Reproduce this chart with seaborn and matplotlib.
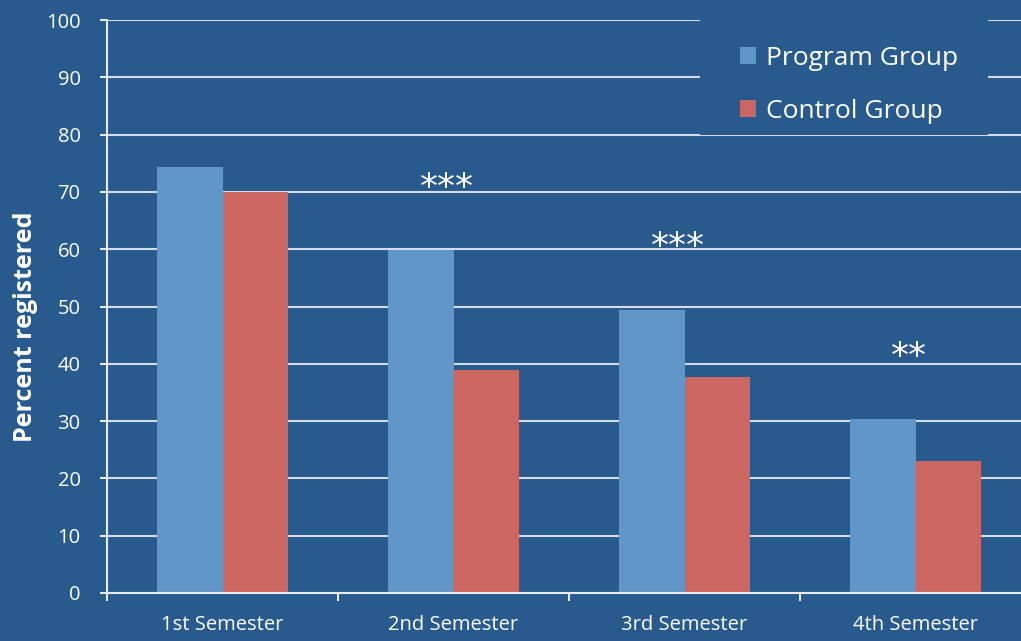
import matplotlib
matplotlib.use("Agg")
import matplotlib.pyplot as plt
import seaborn as sns
import pandas as pd
from matplotlib.patches import Patch, Rectangle

semesters = ["1st Semester", "2nd Semester", "3rd Semester", "4th Semester"]
program_group = [74.4, 59.8, 49.4, 30.3]
control_group = [69.9, 39.0, 37.7, 23.1]
group_names = ["Program Group", "Control Group"]
star_labels = ["", "***", "***", "**"]
star_heights = [0, 71.9, 61.6, 42.4]
y_ticks = [0, 10, 20, 30, 40, 50, 60, 70, 80, 90, 100]

BG = "#285A8E"
BLUE = "#6196C9"
RED = "#CC6660"
GRID = "#D6DCE4"

df = pd.DataFrame({
    "Semester": semesters * 2,
    "Value": program_group + control_group,
    "Group": [group_names[0]] * 4 + [group_names[1]] * 4,
})

sns.set_theme(style="white")
plt.rcParams["font.family"] = ["Open Sans", "DejaVu Sans"]

fig = plt.figure(figsize=(10.21, 6.41), dpi=100, facecolor=BG)
ax = fig.add_axes([107 / 1021, 1 - 593 / 641, 1 - 107 / 1021, (593 - 20) / 641])
ax.set_facecolor(BG)

sns.barplot(data=df, x="Semester", y="Value", hue="Group", order=semesters,
            hue_order=group_names, palette=[BLUE, RED], width=0.571, gap=0,
            saturation=1, ax=ax, legend=False, linewidth=0)

ax.set_ylim(0, 100)
ax.set_xlim(-0.5, (1021 - 107) / 231 - 0.5)
ax.set_yticks(y_ticks)
ax.yaxis.grid(True, color=GRID, linewidth=1.5)
ax.set_axisbelow(True)

for sp in ["top", "right"]:
    ax.spines[sp].set_visible(False)
for sp in ["left", "bottom"]:
    ax.spines[sp].set_color("#E8ECF2")
    ax.spines[sp].set_linewidth(1.5)

ax.tick_params(axis="y", colors="white", length=5, width=1.3, pad=14,
               labelsize=14.5, left=True, direction="out")
ax.tick_params(axis="x", which="major", length=0, pad=16, labelsize=14.5,
               labelcolor="white")
ax.set_xticks([-0.5, 0.5, 1.5, 2.5], minor=True)
ax.tick_params(axis="x", which="minor", length=6, width=1.3, color="white",
               bottom=True, direction="out")
for lab in ax.get_yticklabels():
    lab.set_color("white")

ax.set_xlabel("")
ax.set_ylabel("Percent registered", color="white", fontsize=18,
              fontweight="bold")
ax.yaxis.set_label_coords(-0.076, 0.465)

for i, (s, h) in enumerate(zip(star_labels, star_heights)):
    if s:
        ax.text(i - 0.03, h - 1.3, s, color="white", fontsize=26, ha="center",
                va="center", family="DejaVu Sans")

# legend background box (covers the grid lines like the reference)
x0 = (700 - 107) / 914
x1 = (988 - 107) / 914
y0 = 1 - (135 - 20) / 573
ax.add_patch(Rectangle((x0, y0), x1 - x0, 1 - y0, transform=ax.transAxes,
                       facecolor=BG, edgecolor="none", zorder=1))

handles = [Patch(facecolor=BLUE, edgecolor="none"),
           Patch(facecolor=RED, edgecolor="none")]
leg = ax.legend(handles, group_names, loc="upper left",
                bbox_to_anchor=((740 - 107) / 914, 1 - (46 - 20) / 573),
                frameon=False, fontsize=19, handlelength=0.62,
                handleheight=0.62, handletextpad=0.35, labelspacing=1.07,
                borderpad=0, borderaxespad=0)
for t in leg.get_texts():
    t.set_color("white")

fig.savefig("out.png", dpi=100, facecolor=BG)
